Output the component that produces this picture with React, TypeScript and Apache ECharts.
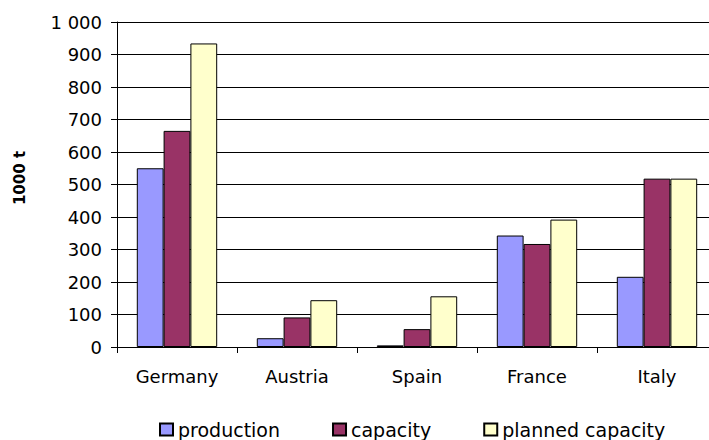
import React, { useEffect, useRef } from "react";
import * as echarts from "echarts";

const categories = ["Germany", "Austria", "Spain", "France", "Italy"];
const production = [550, 27, 5, 343, 216];
const capacity = [665, 91, 55, 317, 518];
const plannedCapacity = [934, 144, 156, 392, 518];
const seriesNames = ["production", "capacity", "planned capacity"];
const seriesColors = ["#9999FF", "#993366", "#FFFFCC"];
const yAxisTitle = "1000 t";

export default function App() {
  const ref = useRef<HTMLDivElement>(null);
  useEffect(() => {
    document.body.style.margin = "0";
    document.body.style.overflow = "hidden";
    if (!ref.current) return;
    const chart = echarts.init(ref.current, undefined, { renderer: "svg" });
    const font = "'DejaVu Sans', sans-serif";
    const data = [production, capacity, plannedCapacity];
    chart.setOption({
      animation: false,
      backgroundColor: "#ffffff",
      textStyle: { fontFamily: font },
      grid: {
        left: 117,
        top: 22,
        height: 325,
        width: 600,
        containLabel: false,
        outerBoundsMode: "none",
      },
      legend: {
        left: 159,
        top: 420,
        itemWidth: 13,
        itemHeight: 12,
        itemGap: 52,
        icon: "rect",
        padding: 0,
        textStyle: { fontFamily: font, fontSize: 19, color: "#000" },
        data: seriesNames,
      },
      xAxis: {
        type: "category",
        data: categories,
        axisLine: { lineStyle: { color: "#000", width: 1 } },
        axisTick: { show: true, length: 6, lineStyle: { color: "#000" } },
        axisLabel: { color: "#000", fontSize: 18, fontFamily: font, margin: 20 },
      },
      yAxis: {
        type: "value",
        min: 0,
        max: 1000,
        interval: 100,
        axisLine: { show: true, lineStyle: { color: "#000", width: 1 } },
        axisTick: { show: true, length: 6, lineStyle: { color: "#000" } },
        splitLine: { show: true, lineStyle: { color: "#000", width: 1 } },
        axisLabel: {
          color: "#000",
          fontSize: 18,
          fontFamily: font,
          margin: 15,
          formatter: (v: number) => (v === 1000 ? "1 000" : String(v)),
        },
      },
      graphic: [
        {
          type: "text",
          x: 20,
          y: 178,
          rotation: Math.PI / 2,
          style: {
            text: yAxisTitle,
            fontFamily: font,
            fontSize: 15,
            fontWeight: "bold",
            fill: "#000",
            align: "center",
            verticalAlign: "middle",
          },
        },
      ],
      series: seriesNames.map((name, i) => ({
        name,
        type: "bar",
        data: data[i],
        barGap: "0%",
        barCategoryGap: "33%",
        itemStyle: { color: seriesColors[i], borderColor: "#000", borderWidth: 1 },
      })),
    });
    return () => chart.dispose();
  }, []);
  return <div ref={ref} style={{ width: 709, height: 440, overflow: "hidden" }} />;
}
